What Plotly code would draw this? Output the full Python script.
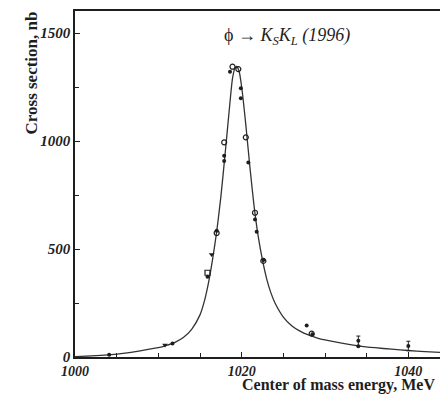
import plotly.graph_objects as go

# Fit curve (energy MeV, cross section nb)
curve_e = [1000.0, 1002, 1004, 1006, 1008, 1010, 1011, 1012, 1013, 1014, 1015, 1015.5,
           1016, 1016.5, 1017, 1017.5, 1018, 1018.5, 1018.9, 1019.2, 1019.4, 1019.7,
           1020, 1020.5, 1021, 1021.5, 1022, 1022.5, 1023, 1023.5, 1024, 1025, 1026,
           1027, 1028, 1029, 1030, 1032, 1034, 1036, 1038, 1040, 1042, 1044]
curve_s = [2, 5, 10, 18, 30, 43, 54, 68, 90, 128, 195, 255,
           340, 450, 580, 740, 935, 1140, 1290, 1338, 1345, 1322,
           1250, 1075, 875, 695, 555, 448, 362, 298, 250, 185, 145,
           120, 102, 89, 79, 64, 52, 43, 36, 30, 25, 21]

# Measured points
filled_e = [1004.1, 1011.7, 1015.9, 1017.0, 1017.9, 1017.9, 1018.6, 1019.9, 1019.9,
            1020.8, 1021.6, 1021.8, 1022.6, 1027.8, 1028.5, 1034.0]
filled_s = [10, 63, 372, 585, 932, 907, 1321, 1244, 1198,
            900, 637, 580, 449, 146, 105, 50]
open_e = [1017.9, 1018.9, 1019.6, 1020.5, 1021.6, 1022.6, 1028.4, 1017.0]
open_s = [994, 1344, 1333, 1017, 668, 445, 108, 574]
tri_e = [1010.8, 1016.4]
tri_s = [55, 475]
sq_e = [1015.9]
sq_s = [390]
err_e = [1034.0, 1040.0]
err_s = [75, 51]
err_d = [22, 22]

x_major = [1000, 1020, 1040]
y_major = [0, 500, 1000, 1500]

ink = "#1e1e1e"
fig = go.Figure()
fig.add_trace(go.Scatter(x=curve_e, y=curve_s, mode="lines",
                         line=dict(color="#333333", width=1.3, shape="spline", smoothing=0.6),
                         hoverinfo="skip"))
fig.add_trace(go.Scatter(x=filled_e, y=filled_s, mode="markers",
                         marker=dict(symbol="circle", size=4, color=ink)))
fig.add_trace(go.Scatter(x=open_e, y=open_s, mode="markers",
                         marker=dict(symbol="circle-open", size=5, color=ink,
                                     line=dict(width=1.2, color=ink))))
fig.add_trace(go.Scatter(x=tri_e, y=tri_s, mode="markers",
                         marker=dict(symbol="triangle-down", size=5, color=ink)))
fig.add_trace(go.Scatter(x=sq_e, y=sq_s, mode="markers",
                         marker=dict(symbol="square-open", size=5, color=ink,
                                     line=dict(width=1.2, color=ink))))
fig.add_trace(go.Scatter(x=err_e, y=err_s, mode="markers",
                         marker=dict(symbol="circle", size=4, color=ink),
                         error_y=dict(type="data", array=err_d, visible=True,
                                      color=ink, thickness=1, width=2)))

xtickfont = dict(family="Liberation Serif", size=14, color=ink)
ytickfont = dict(family="Liberation Serif", size=15, color=ink)
fig.update_layout(
    width=440, height=394,
    margin=dict(l=75, r=0, t=11, b=37),
    paper_bgcolor="white", plot_bgcolor="white",
    showlegend=False,
    xaxis=dict(range=[1000, 1043.8], tickvals=x_major,
               ticktext=[f"<b><i>{v}</i></b>" for v in x_major],
               ticks="inside", ticklen=5, tickcolor=ink, tickwidth=1,
               minor=dict(dtick=5, tick0=1000, ticks="inside", ticklen=4, tickcolor=ink),
               showgrid=False, zeroline=False, showline=True, linecolor=ink,
               linewidth=1.5, mirror=True, tickfont=xtickfont),
    yaxis=dict(range=[0, 1602], tickvals=y_major,
               ticktext=[f"<b><i>{v}</i></b>" for v in y_major],
               ticks="inside", ticklen=5, tickcolor=ink, tickwidth=1,
               minor=dict(dtick=250, tick0=0, ticks="inside", ticklen=4, tickcolor=ink),
               showgrid=False, zeroline=False, showline=True, linecolor=ink,
               linewidth=1.5, tickfont=ytickfont),
    annotations=[
        dict(text="ϕ → <i>K<sub>S</sub>K<sub>L</sub> (1996)</i>", xref="paper", yref="paper",
             x=(287 - 75) / 365, y=(357 - 36) / 346, xanchor="center", yanchor="middle",
             showarrow=False, font=dict(family="Liberation Serif", size=18, color=ink)),
        dict(text="<b>Cross section, nb</b>", xref="paper", yref="paper",
             x=(31 - 75) / 365, y=(357 - 10) / 346, xanchor="center", yanchor="top",
             textangle=-90, showarrow=False,
             font=dict(family="Liberation Serif", size=17, color=ink)),
        dict(text="<b>Center of mass energy, MeV</b>", xref="paper", yref="paper",
             x=(240 - 75) / 365, y=-(385 - 357) / 346, xanchor="left", yanchor="middle",
             showarrow=False, font=dict(family="Liberation Serif", size=16, color=ink)),
    ],
)
fig.write_html("out.html")
